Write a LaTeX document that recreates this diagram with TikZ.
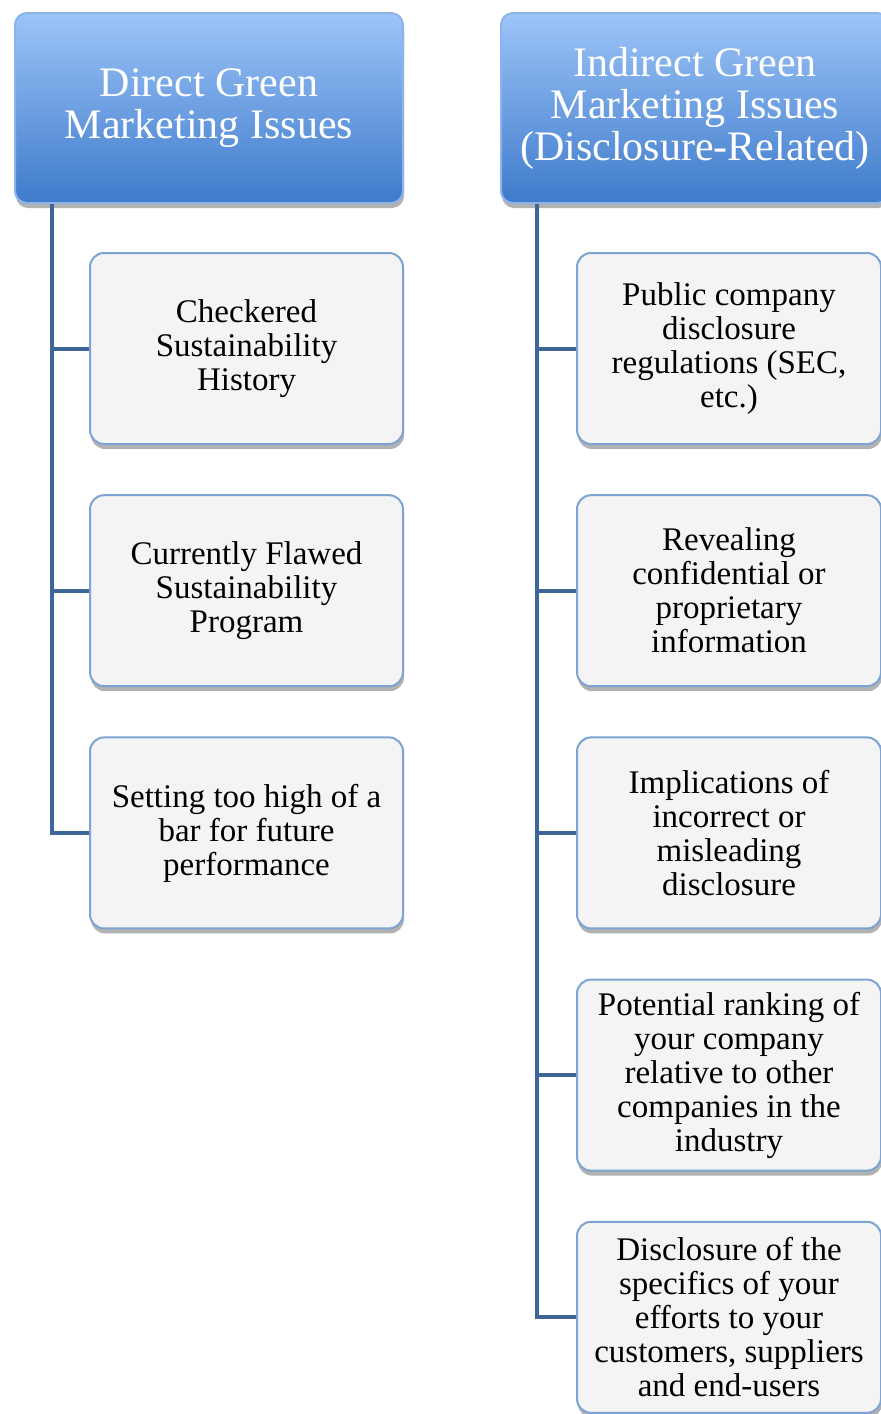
\documentclass[tikz,border=0pt]{standalone}
\usepackage{fontspec}
\setmainfont{Liberation Serif}
\usetikzlibrary{positioning,shadows}
\definecolor{headtop}{HTML}{9DC4F8}
\definecolor{headbot}{HTML}{3E7BCB}
\definecolor{headedge}{HTML}{8DB4E8}
\definecolor{boxedge}{HTML}{7DA3D3}
\definecolor{boxfill}{HTML}{F4F4F4}
\definecolor{linkcol}{HTML}{3D6595}
\tikzset{
node distance=24.6pt, % gap between the stacked boxes
head/.style={rounded corners=6pt, top color=headtop, bottom color=headbot, draw=headedge, line width=1pt,
  text=white, align=center, minimum width=194pt, minimum height=95pt, font=\fontsize{21}{21}\selectfont,
  drop shadow={shadow xshift=0.5pt, shadow yshift=-2.5pt, fill=black, opacity=0.3}}, % the two top boxes
item/.style={rounded corners=7pt, fill=boxfill, draw=boxedge, line width=1pt, align=center,
  minimum width=156.5pt, minimum height=95.5pt, font=\fontsize{16.5}{17}\selectfont,
  drop shadow={shadow xshift=0.5pt, shadow yshift=-2.5pt, fill=black, opacity=0.3}}, % the issue boxes
narrow/.style={minimum width=152pt}, % right column is a bit thinner
link/.style={draw=linkcol, line width=2pt}, % the tree lines
}
\begin{document}
\begin{tikzpicture}
\useasboundingbox (0,0) rectangle (440.5pt,-707pt);
% left column
\node[head, anchor=north west] (lhead) at (7pt,-6pt) {Direct Green\\Marketing Issues};
\node[item, below=24pt of lhead.south east, anchor=north east] (l1) {Checkered\\Sustainability\\History};
\node[item, below=of l1] (l2) {Currently Flawed\\Sustainability\\Program};
\node[item, below=of l2] (l3) {Setting too high of a\\bar for future\\performance};
% right column
\node[head, anchor=north west] (rhead) at (250pt,-6pt) {Indirect Green\\Marketing Issues\\(Disclosure-Related)};
\node[item, narrow, below=24pt of rhead.south east, anchor=north east, xshift=-4pt] (r1) {Public company\\disclosure\\regulations (SEC,\\etc.)};
\node[item, narrow, below=of r1] (r2) {Revealing\\confidential or\\proprietary\\information};
\node[item, narrow, below=of r2] (r3) {Implications of\\incorrect or\\misleading\\disclosure};
\node[item, narrow, below=of r3] (r4) {Potential ranking of\\your company\\relative to other\\companies in the\\industry};
\node[item, narrow, below=of r4] (r5) {Disclosure of the\\specifics of your\\efforts to your\\customers, suppliers\\and end-users};
% tree lines
\foreach \n in {l1,l2,l3}
  \draw[link] ([xshift=19pt]lhead.south west) |- (\n.west);
\foreach \n in {r1,r2,r3,r4,r5}
  \draw[link] ([xshift=18.5pt]rhead.south west) |- (\n.west);
\end{tikzpicture}
\end{document}
